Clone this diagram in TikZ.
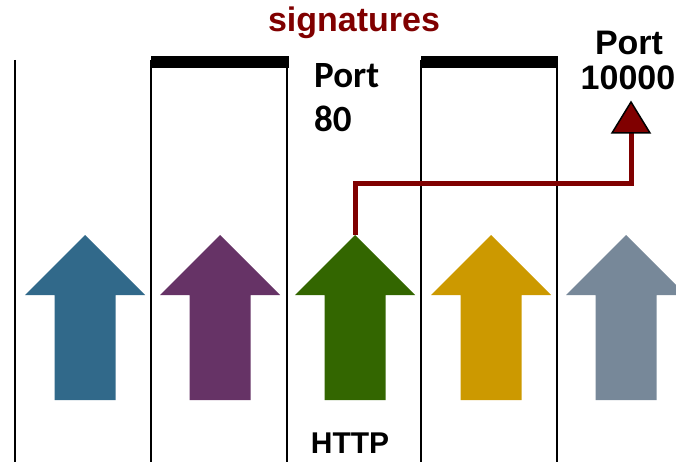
\documentclass[tikz,border=0pt]{standalone}
\usepackage{xcolor}
\usepackage{fontspec}
\setmainfont{Liberation Sans}
\newfontfamily\calfont{Carlito}
\definecolor{sigred}{HTML}{800000}
\definecolor{arrblue}{HTML}{31698A}
\definecolor{arrpurple}{HTML}{663366}
\definecolor{arrgreen}{HTML}{336600}
\definecolor{arrgold}{HTML}{CC9900}
\definecolor{arrgray}{HTML}{778899}
\usetikzlibrary{positioning}

\begin{document}
\begin{tikzpicture}[x=1pt,y=-1pt,
  wall/.style={line width=2pt,black},
  cap bar/.style={fill=black},
  sigline/.style={line width=5pt,sigred},
  bigtext/.style={font=\bfseries\fontsize{34}{38}\selectfont,anchor=base,inner sep=0pt}]
\useasboundingbox (0,0) rectangle (676,462);
% walls and their caps
\foreach \x in {15,151,287,421,557}
  \draw[wall] (\x,60) -- (\x,462);
\fill[cap bar] (151,56) rectangle (289,68);
\fill[cap bar] (421,56) rectangle (558,68);
% the five arrows
\foreach \c/\col [count=\i] in {85/arrblue,220/arrpurple,355/arrgreen,491/arrgold,626/arrgray}{
  \fill[\col] (\c,235) -- (\c+60,295) -- (\c+30.5,295) -- (\c+30.5,400)
    -- (\c-30.5,400) -- (\c-30.5,295) -- (\c-60,295) -- cycle;
  \coordinate (tip\i) at (\c,235);
}
\coordinate (porttip) at (631,133);
\draw[sigline] (tip3) -- ++(0,-51) -| (porttip);
\filldraw[fill=sigred,draw=black,line width=1.5pt] (porttip) -- ++(19,0) -- ++(-19,-31) -- ++(-19,31) -- cycle;
% labels
\node[bigtext,text=sigred] (sig) at (354,32) {signatures};
\node[bigtext,anchor=base west,font=\calfont\bfseries\fontsize{37}{40}\selectfont] (p80) at (314,88) {Port};
\node[bigtext,anchor=base west,font=\calfont\bfseries\fontsize{37}{40}\selectfont] (n80) at (314,132) {80};
\node[bigtext] (p10k) at (629,55) {Port};
\node[bigtext] (n10k) at (628,90) {10000};
\node[bigtext,font=\bfseries\fontsize{30}{34}\selectfont] (http) at (350,453) {HTTP};
\end{tikzpicture}
\end{document}
